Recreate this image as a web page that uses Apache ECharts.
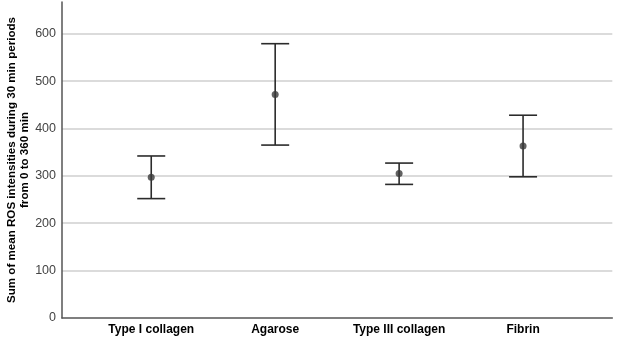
<!DOCTYPE html>
<html>
<head>
<meta charset="utf-8">
<script src="https://cdn.jsdelivr.net/npm/echarts@6/dist/echarts.min.js"></script>
<style>html,body{margin:0;padding:0;background:#fff}#c{width:617px;height:338px}</style>
</head>
<body>
<div id="c"></div>
<script>
const categories = ['Type I collagen', 'Agarose', 'Type III collagen', 'Fibrin'];
const means = [297, 472, 305, 363];
const lower = [252, 365, 282, 298];
const upper = [342, 579, 327, 428];
const yTicks = [0, 100, 200, 300, 400, 500, 600];

const chart = echarts.init(document.getElementById('c'), null, {renderer: 'canvas'});
const errData = categories.map((c, i) => [i, lower[i], upper[i]]);
const meanData = categories.map((c, i) => [i, means[i]]);

chart.setOption({
  animation: false,
  grid: {left: 62, right: 4.7, top: 2, bottom: 20, containLabel: false, outerBoundsMode: 'none'},
  xAxis: {
    type: 'value', min: -0.72, max: 3.72,
    splitLine: {show: false},
    axisTick: {show: false},
    axisLine: {show: true, onZero: false, lineStyle: {color: '#555', width: 1.5}},
    axisLabel: {
      customValues: [0, 1, 2, 3],
      formatter: v => categories[Math.round(v)],
      fontFamily: 'Liberation Sans, Arial, sans-serif',
      fontWeight: 'bold', fontSize: 12, color: '#000', margin: 6
    }
  },
  yAxis: {
    type: 'value', min: 0, max: 667, interval: 100,
    name: 'Sum of mean ROS intensities during 30 min periods\nfrom 0 to 360 min',
    nameLocation: 'middle', nameRotate: 90, nameGap: 31, nameMoveOverlap: false,
    nameTextStyle: {fontFamily: 'Liberation Sans, Arial, sans-serif', fontWeight: 'bold', fontSize: 11.6, color: '#000', lineHeight: 13},
    axisLine: {show: true, onZero: false, lineStyle: {color: '#555', width: 1.5}},
    axisTick: {show: false},
    splitLine: {show: true, showMinLine: false, showMaxLine: false, lineStyle: {color: '#cfcfcf', width: 1.5}},
    axisLabel: {
      customValues: yTicks,
      fontFamily: 'Liberation Sans, Arial, sans-serif',
      fontSize: 12.5, color: '#444', margin: 6
    }
  },
  series: [
    {
      type: 'custom',
      data: errData,
      renderItem: function (params, api) {
        const x = api.value(0);
        const lo = api.coord([x, api.value(1)]);
        const hi = api.coord([x, api.value(2)]);
        const hw = 14;
        const style = {stroke: '#2b2b2b', lineWidth: 1.6, fill: null};
        return {
          type: 'group',
          children: [
            {type: 'line', shape: {x1: lo[0], y1: lo[1], x2: hi[0], y2: hi[1]}, style: style},
            {type: 'line', shape: {x1: lo[0] - hw, y1: lo[1], x2: lo[0] + hw, y2: lo[1]}, style: style},
            {type: 'line', shape: {x1: hi[0] - hw, y1: hi[1], x2: hi[0] + hw, y2: hi[1]}, style: style}
          ]
        };
      },
      z: 2
    },
    {
      type: 'scatter',
      data: meanData,
      symbol: 'circle',
      symbolSize: 7,
      itemStyle: {color: '#3a3a3a'},
      z: 3
    }
  ]
});
</script>
</body>
</html>
